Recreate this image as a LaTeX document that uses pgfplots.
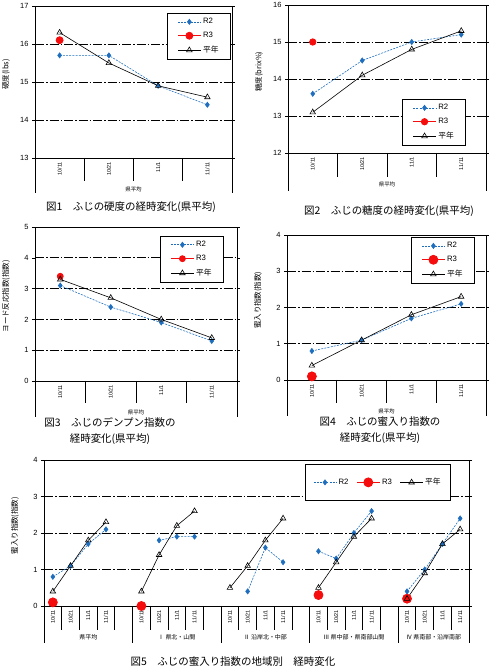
\documentclass[border=0pt]{standalone}
\usepackage{pgfplots}
\pgfplotsset{compat=1.18}
\usepackage{fontspec}
\setmainfont{Liberation Sans}
\newfontfamily\jp{Noto Sans CJK JP}
\definecolor{rtwo}{RGB}{31,110,190}
\definecolor{rthree}{RGB}{245,12,12}

\pgfplotsset{
  base/.style={
    scale only axis,
    clip=false,
    axis line style={line width=0.8pt},
    xmin=-0.5, xmax=3.5,
    xtick={0,1,2,3},
    xticklabels={10/11,10/21,11/1,11/11},
    xtick style={draw=none},
    x tick label style={rotate=90, anchor=east, font=\fontsize{5.5}{6}\selectfont, inner sep=1pt},
    ytick style={line width=0.6pt, black},
    tick align=outside,
    major tick length=3bp,
    y tick label style={font=\fontsize{7.5}{9}\selectfont},
    /pgf/number format/assume math mode=true,
    ymajorgrids,
    major grid style={black, line width=0.8pt, dash pattern=on 9bp off 2bp on 1.5bp off 2bp},
    xlabel style={font=\jp\fontsize{5.5}{6}\selectfont, at={([yshift=-31bp]axis description cs:0.5,0)}, anchor=center},
    ylabel style={font=\jp\fontsize{7.5}{9}\selectfont, at={([xshift=-29bp]axis description cs:0,0.55)}, anchor=center},
    legend style={font=\fontsize{7.8}{9}\selectfont, draw=black, line width=0.8pt, inner xsep=10bp, inner ysep=3bp, row sep=3bp, cells={anchor=west}},
    legend cell align=left,
    legend image code/.code={\draw[mark repeat=2,mark phase=2,##1] plot coordinates {(0cm,0cm) (0.4cm,0cm) (0.8cm,0cm)};},
    unbounded coords=jump,
  },
  sR2/.style={rtwo, line width=0.6pt, dash pattern=on 2bp off 1.2bp, mark=diamond*, mark size=2.6bp, mark options={solid, fill=rtwo}},
  sR3/.style={rthree, line width=0.8pt, mark=*, mark size=3.5bp, mark options={solid, fill=rthree}},
  sPY/.style={black, line width=0.6pt, mark=triangle, mark size=3.2bp, mark options={solid, fill=white}},
}

\begin{document}
\begin{tikzpicture}
\path[use as bounding box] (0,0) rectangle (490bp,671bp);

% ---------- Fig 1
\begin{axis}[base, at={(35bp,513bp)}, anchor=south west, width=197bp, height=152bp,
  ymin=13, ymax=17, ytick={13,14,15,16,17},
  xlabel={県平均}, ylabel={硬度(lbs)},
  legend style={at={(0.995,0.954)}, anchor=north east}]
\addplot[sR2] coordinates {(0,15.7)(1,15.7)(2,14.9)(3,14.4)};
\addplot[sR3] coordinates {(0,16.1)};
\addplot[sPY] coordinates {(0,16.3)(1,15.5)(2,14.9)(3,14.6)};
\legend{R2,R3,{\jp 平年}}
\pgfplotsinvokeforeach{0.5,1.5,2.5}{\draw[line width=0.8pt] (axis cs:#1,13) -- ++(0bp,-23bp);}
\draw[line width=0.8pt] (rel axis cs:0,0) -- ++(0bp,-35bp);
\draw[line width=0.8pt] (rel axis cs:1,0) -- ++(0bp,-35bp);
\end{axis}

% ---------- Fig 2
\begin{axis}[base, at={(288bp,518bp)}, anchor=south west, width=198bp, height=148bp,
  ymin=12, ymax=16, ytick={12,13,14,15,16},
  xlabel={県平均}, ylabel={糖度(brix\%)},
  legend style={at={(0.9,0.365)}, anchor=north east}]
\addplot[sR2] coordinates {(0,13.6)(1,14.5)(2,15.0)(3,15.2)};
\addplot[sR3, mark size=3.2bp] coordinates {(0,15.0)};
\addplot[sPY] coordinates {(0,13.1)(1,14.1)(2,14.8)(3,15.3)};
\legend{R2,R3,{\jp 平年}}
\pgfplotsinvokeforeach{0.5,1.5,2.5}{\draw[line width=0.8pt] (axis cs:#1,12) -- ++(0bp,-24bp);}
\draw[line width=0.8pt] (rel axis cs:0,0) -- ++(0bp,-38bp);
\draw[line width=0.8pt] (rel axis cs:1,0) -- ++(0bp,-38bp);
\end{axis}

% ---------- Fig 3
\begin{axis}[base, at={(35bp,290bp)}, anchor=south west, width=202bp, height=154bp,
  ymin=0, ymax=5, ytick={0,1,2,3,4,5},
  xlabel={県平均}, ylabel={ヨード反応指数(指数)},
  legend style={at={(0.936,0.942)}, anchor=north east}]
\addplot[sR2] coordinates {(0,3.1)(1,2.4)(2,1.9)(3,1.3)};
\addplot[sR3, mark size=3bp] coordinates {(0,3.4)};
\addplot[sPY] coordinates {(0,3.3)(1,2.7)(2,2.0)(3,1.4)};
\legend{R2,R3,{\jp 平年}}
\pgfplotsinvokeforeach{0.5,1.5,2.5}{\draw[line width=0.8pt] (axis cs:#1,0) -- ++(0bp,-22bp);}
\draw[line width=0.8pt] (rel axis cs:0,0) -- ++(0bp,-36bp);
\draw[line width=0.8pt] (rel axis cs:1,0) -- ++(0bp,-36bp);
\end{axis}

% ---------- Fig 4
\begin{axis}[base, at={(287bp,291bp)}, anchor=south west, width=199bp, height=145bp,
  ymin=0, ymax=4, ytick={0,1,2,3,4},
  xlabel={県平均}, ylabel={蜜入り指数(指数)},
  legend style={at={(0.945,0.986)}, anchor=north east}]
\addplot[sR2] coordinates {(0,0.8)(1,1.1)(2,1.7)(3,2.1)};
\addplot[sR3, mark size=4.5bp] coordinates {(0,0.1)};
\addplot[sPY] coordinates {(0,0.4)(1,1.1)(2,1.8)(3,2.3)};
\legend{R2,R3,{\jp 平年}}
\pgfplotsinvokeforeach{0.5,1.5,2.5}{\draw[line width=0.8pt] (axis cs:#1,0) -- ++(0bp,-23bp);}
\draw[line width=0.8pt] (rel axis cs:0,0) -- ++(0bp,-36bp);
\draw[line width=0.8pt] (rel axis cs:1,0) -- ++(0bp,-36bp);
\end{axis}

% ---------- Fig 5
\begin{axis}[base, at={(44bp,65bp)}, anchor=south west, width=425bp, height=146bp,
  xmin=-0.5, xmax=23.5,
  xtick={0,1,2,3,5,6,7,8,10,11,12,13,15,16,17,18,20,21,22,23},
  xticklabels={10/11,10/21,11/1,11/11,10/11,10/21,11/1,11/11,10/11,10/21,11/1,11/11,10/11,10/21,11/1,11/11,10/11,10/21,11/1,11/11},
  ymin=0, ymax=4, ytick={0,1,2,3,4},
  ylabel={蜜入り指数(指数)},
  legend columns=3,
  legend style={at={(0.958,0.973)}, anchor=north east, inner xsep=8bp, inner ysep=12bp,
    /tikz/every even column/.append style={column sep=6bp}}]
\addplot[sR2] coordinates {(0,0.8)(1,1.1)(2,1.7)(3,2.1)(4,nan)
  (6,1.8)(7,1.9)(8,1.9)(9,nan)
  (11,0.4)(12,1.6)(13,1.2)(14,nan)
  (15,1.5)(16,1.3)(17,2.0)(18,2.6)(19,nan)
  (20,0.4)(21,1.0)(22,1.7)(23,2.4)};
\addplot[sR3, mark size=4.5bp] coordinates {(0,0.1)(1,nan)(5,0.0)(6,nan)(15,0.3)(16,nan)(20,0.2)};
\addplot[sPY] coordinates {(0,0.4)(1,1.1)(2,1.8)(3,2.3)(4,nan)
  (5,0.4)(6,1.4)(7,2.2)(8,2.6)(9,nan)
  (10,0.5)(11,1.1)(12,1.8)(13,2.4)(14,nan)
  (15,0.5)(16,1.2)(17,1.9)(18,2.4)(19,nan)
  (20,0.2)(21,0.9)(22,1.7)(23,2.1)};
\legend{R2,R3,{\jp 平年}}
\pgfplotsinvokeforeach{0.5,1.5,2.5,3.5,5.5,6.5,7.5,8.5,10.5,11.5,12.5,13.5,15.5,16.5,17.5,18.5,20.5,21.5,22.5}{\draw[line width=0.8pt] (axis cs:#1,0) -- ++(0bp,-24bp);}
\pgfplotsinvokeforeach{4.5,9.5,14.5,19.5}{\draw[line width=0.8pt] (axis cs:#1,0) -- ++(0bp,-37bp);}
\draw[line width=0.8pt] (rel axis cs:0,0) -- ++(0bp,-37bp);
\draw[line width=0.8pt] (rel axis cs:1,0) -- ++(0bp,-37bp);
\node[font=\jp\fontsize{6}{7}\selectfont] at ([yshift=-31bp]axis cs:2,0) {県平均};
\node[font=\jp\fontsize{6}{7}\selectfont] at ([yshift=-31bp]axis cs:7,0) {Ⅰ\ 県北・山間};
\node[font=\jp\fontsize{6}{7}\selectfont] at ([yshift=-31bp]axis cs:12,0) {Ⅱ\ 沿岸北・中部};
\node[font=\jp\fontsize{6}{7}\selectfont] at ([yshift=-31bp]axis cs:17,0) {Ⅲ\ 県中部・県南部山間};
\node[font=\jp\fontsize{6}{7}\selectfont] at ([yshift=-31bp]axis cs:21.5,0) {Ⅳ\ 県南部・沿岸南部};
\end{axis}

% ---------- Titles
\begin{scope}[every node/.style={font=\jp\fontsize{10.5}{15.5}\selectfont, align=center, inner sep=0pt}]
\node at (131bp,464bp) {図1　ふじの硬度の経時変化(県平均)};
\node at (389bp,460bp) {図2　ふじの糖度の経時変化(県平均)};
\node at (110bp,240bp) {図3　ふじのデンプン指数の\\経時変化(県平均)};
\node at (380bp,241bp) {図4　ふじの蜜入り指数の\\経時変化(県平均)};
\node at (233bp,9bp) {図5　ふじの蜜入り指数の地域別　経時変化};
\end{scope}
\end{tikzpicture}
\end{document}
